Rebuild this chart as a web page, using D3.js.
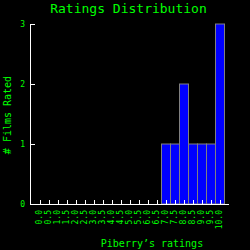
<!DOCTYPE html>
<html><head><meta charset="utf-8">
<script src="https://cdn.jsdelivr.net/npm/d3@7"></script>
<style>html,body{margin:0;padding:0;background:#000;}svg{display:block;}</style>
</head><body>
<script>
const categories = ["0.0","0.5","1.0","1.5","2.0","2.5","3.0","3.5","4.0","4.5","5.0","5.5","6.0","6.5","7.0","7.5","8.0","8.5","9.0","9.5","10.0"];
const counts = [0,0,0,0,0,0,0,0,0,0,0,0,0,0,1,1,2,1,1,1,3];
const yTicks = [0,1,2,3];
const title = "Ratings Distribution";
const xTitle = "Piberry’s ratings";
const yTitle = "# Films Rated";

const W = 250, H = 250;
const green = "#00ff00";
const font = "'DejaVu Sans Mono', monospace";
const svg = d3.select("body").append("svg").attr("width", W).attr("height", H)
  .style("background", "#000");

const x = d3.scaleBand().domain(categories).range([35, 224]).paddingInner(0).paddingOuter(0);
const y = d3.scaleLinear().domain([0, 3]).range([204, 24]);

svg.append("g").selectAll("rect").data(categories).join("rect")
  .filter((d, i) => counts[i] > 0)
  .attr("x", d => x(d) + 0.5)
  .attr("width", x.bandwidth())
  .attr("y", d => y(counts[categories.indexOf(d)]))
  .attr("height", d => y(0) - y(counts[categories.indexOf(d)]))
  .attr("fill", "#0000ff").attr("stroke", "#808080").attr("stroke-width", 1);

// axis lines
svg.append("line").attr("x1", 30.5).attr("x2", 30.5).attr("y1", 24).attr("y2", 204.5)
  .attr("stroke", "#fff");
svg.append("line").attr("x1", 30).attr("x2", 229).attr("y1", 204.5).attr("y2", 204.5)
  .attr("stroke", "#fff");

// y ticks
const yg = svg.append("g");
yg.selectAll("line").data(yTicks).join("line")
  .attr("x1", 30).attr("x2", 35)
  .attr("y1", d => Math.round(y(d)) + 0.5).attr("y2", d => Math.round(y(d)) + 0.5)
  .attr("stroke", "#fff");
yg.selectAll("text").data(yTicks).join("text")
  .attr("x", 25).attr("y", d => y(d)).attr("dy", "0.35em")
  .attr("text-anchor", "end").attr("fill", green)
  .style("font-family", font).style("font-size", "8px").text(d => d);

// x ticks
const xg = svg.append("g");
xg.selectAll("line").data(categories).join("line")
  .attr("x1", d => Math.round(x(d) + x.bandwidth() / 2) + 0.5)
  .attr("x2", d => Math.round(x(d) + x.bandwidth() / 2) + 0.5)
  .attr("y1", 200).attr("y2", 204)
  .attr("stroke", "#fff");
xg.selectAll("text").data(categories).join("text")
  .attr("transform", d => `translate(${x(d) + x.bandwidth() / 2},210) rotate(-90)`)
  .attr("text-anchor", "end").attr("dy", "0.35em")
  .attr("fill", green)
  .style("font-family", font).style("font-size", "8px").text(d => d);

// titles
svg.append("text").attr("x", 128.5).attr("y", 12.5).attr("text-anchor", "middle")
  .attr("fill", green).style("font-family", font).style("font-size", "13px").text(title);
svg.append("text").attr("x", 152).attr("y", 247).attr("text-anchor", "middle")
  .attr("fill", green).style("font-family", font).style("font-size", "10px").text(xTitle);
svg.append("text").attr("transform", "translate(11,115) rotate(-90)").attr("text-anchor", "middle")
  .attr("fill", green).style("font-family", font).style("font-size", "10px").text(yTitle);
</script>
</body></html>
